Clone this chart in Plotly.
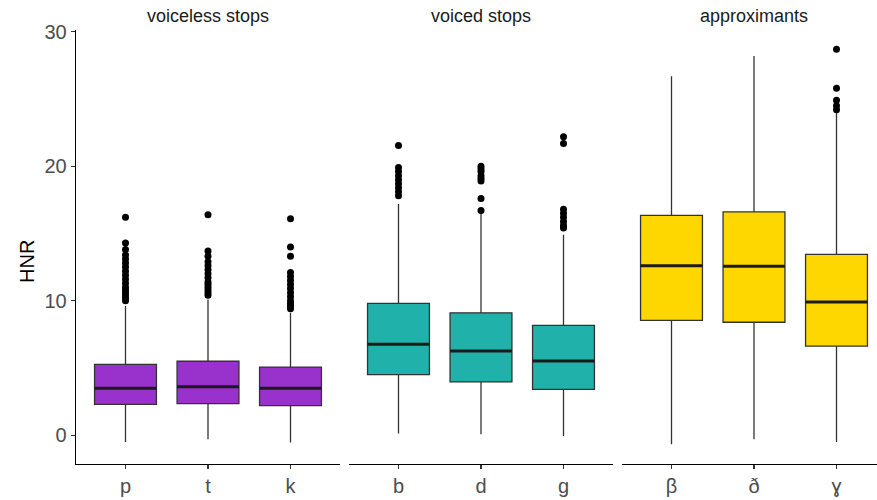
import plotly.graph_objects as go

# ---------------- data ----------------
panel_titles = ["voiceless stops", "voiced stops", "approximants"]
cats_voiceless = ["p", "t", "k"]
cats_voiced = ["b", "d", "g"]
cats_approx = ["β", "ð", "ɣ"]

q1_voiceless = [2.3, 2.35, 2.2]
med_voiceless = [3.5, 3.6, 3.5]
q3_voiceless = [5.27, 5.5, 5.07]
lo_voiceless = [-0.5, -0.3, -0.55]
hi_voiceless = [9.6, 10.1, 9.1]

q1_voiced = [4.5, 3.96, 3.41]
med_voiced = [6.76, 6.26, 5.52]
q3_voiced = [9.8, 9.1, 8.17]
lo_voiced = [0.12, 0.07, -0.05]
hi_voiced = [17.2, 16.65, 14.9]

q1_approx = [8.54, 8.4, 6.63]
med_approx = [12.6, 12.57, 9.9]
q3_approx = [16.35, 16.6, 13.44]
lo_approx = [-0.67, -0.3, -0.5]
hi_approx = [26.7, 28.2, 24.1]

out_p = [10.0, 10.2, 10.4, 10.6, 10.8, 11.0, 11.3, 11.6, 11.9, 12.2, 12.5, 12.8, 13.1, 13.4, 13.8, 14.3, 16.2]
out_t = [10.4, 10.6, 10.8, 11.0, 11.2, 11.4, 11.7, 12.0, 12.3, 12.6, 12.9, 13.3, 13.7, 16.4]
out_k = [9.4, 9.6, 9.8, 10.0, 10.3, 10.6, 10.9, 11.2, 11.5, 11.8, 12.1, 13.3, 14.0, 16.1]
out_b = [17.8, 18.1, 18.4, 18.7, 19.0, 19.3, 19.6, 19.9, 21.55]
out_d = [16.7, 17.6, 18.9, 19.1, 19.3, 19.6, 19.8, 20.0]
out_g = [15.4, 15.6, 15.9, 16.2, 16.5, 16.8, 21.7, 22.2]
out_beta = []
out_eth = []
out_gamma = [24.2, 24.5, 24.9, 25.8, 28.7]

y_ticks = [0, 10, 20, 30]

colors = ["#9932CC", "#20B2AA", "#FFD700"]

panels = [
    (cats_voiceless, q1_voiceless, med_voiceless, q3_voiceless, lo_voiceless, hi_voiceless, [out_p, out_t, out_k]),
    (cats_voiced, q1_voiced, med_voiced, q3_voiced, lo_voiced, hi_voiced, [out_b, out_d, out_g]),
    (cats_approx, q1_approx, med_approx, q3_approx, lo_approx, hi_approx, [out_beta, out_eth, out_gamma]),
]

# ---------------- layout geometry ----------------
W, H = 877, 500
ML, MR, MT, MB = 76, 0, 30, 36
pw = W - ML - MR
ph = H - MT - MB
panel_px = [(76, 340), (349, 613), (622, 886)]
domains = [
    [(a - ML) / pw, min(1.0, (b - ML) / pw)] for a, b in panel_px
]
x_ranges = [[0.4, 0.4 + 3.2 * (min(b, W) - a) / (b - a)] for a, b in panel_px]
y_range = [-2.14, 30.13]
BOXW = 0.75
FONT = "Liberation Sans, Arial, Helvetica, sans-serif"

fig = go.Figure()

for i, (cats, q1, med, q3, lo, hi, outs) in enumerate(panels):
    xa = "x" if i == 0 else f"x{i+1}"
    pos = list(range(1, len(cats) + 1))
    fig.add_trace(go.Box(
        x=pos, q1=q1, median=med, q3=q3, lowerfence=lo, upperfence=hi,
        width=BOXW, whiskerwidth=0, boxpoints=False,
        fillcolor=colors[i], line=dict(color="#333333", width=1.3),
        xaxis=xa, yaxis="y", showlegend=False, hoverinfo="skip",
    ))
    for p, m in zip(pos, med):
        fig.add_trace(go.Scatter(
            x=[p - BOXW / 2, p + BOXW / 2], y=[m, m], mode="lines",
            line=dict(color="#1a1a1a", width=3), xaxis=xa, yaxis="y",
            showlegend=False, hoverinfo="skip",
        ))
    ox, oy = [], []
    for p, o in zip(pos, outs):
        ox += [p] * len(o)
        oy += o
    if ox:
        fig.add_trace(go.Scatter(
            x=ox, y=oy, mode="markers",
            marker=dict(color="black", size=7),
            xaxis=xa, yaxis="y", showlegend=False, hoverinfo="skip",
        ))

layout = dict(
    width=W, height=H,
    margin=dict(l=ML, r=MR, t=MT, b=MB, autoexpand=False),
    paper_bgcolor="white", plot_bgcolor="white",
    boxmode="overlay",
    font=dict(family=FONT),
    yaxis=dict(
        range=y_range, tickvals=y_ticks, showgrid=False, zeroline=False,
        showline=True, linecolor="black", linewidth=1.3,
        ticks="outside", ticklen=4, tickcolor="#333333", tickwidth=1.2,
        tickfont=dict(size=20, color="#4d4d4d", family=FONT),
        anchor="x",
    ),
    annotations=[],
)
for i, (cats, *_rest) in enumerate(panels):
    key = "xaxis" if i == 0 else f"xaxis{i+1}"
    layout[key] = dict(
        domain=domains[i], range=x_ranges[i],
        tickvals=list(range(1, len(cats) + 1)), ticktext=cats,
        showgrid=False, zeroline=False,
        showline=True, linecolor="black", linewidth=1.3,
        ticks="outside", ticklen=4, tickcolor="#333333", tickwidth=1.2,
        tickfont=dict(size=20, color="#4d4d4d", family=FONT),
        anchor="y",
    )
    a, b = panel_px[i]
    layout["annotations"].append(dict(
        text=panel_titles[i], xref="paper", yref="paper",
        x=((a + b) / 2 - ML) / pw,
        y=1 + (MT - 16) / ph, xanchor="center", yanchor="middle",
        showarrow=False, font=dict(size=18, color="#1a1a1a", family=FONT),
    ))
layout["annotations"].append(dict(
    text="HNR", xref="paper", yref="paper",
    x=(27 - ML) / pw, y=(464 - 262) / ph,
    textangle=-90, xanchor="center", yanchor="middle", showarrow=False,
    font=dict(size=20, color="black", family=FONT),
))

fig.update_layout(**layout)
fig.write_html(
    "out.html",
    config={"displayModeBar": False, "staticPlot": True},
    post_script="document.body.style.margin='0';document.body.style.overflow='hidden';",
)
